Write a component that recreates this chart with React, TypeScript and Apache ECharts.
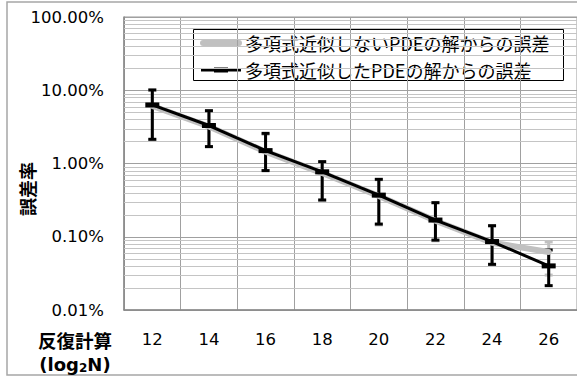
import { useEffect, useRef } from 'react';
import * as echarts from 'echarts';

// 反復計算 (log2 N)
const iterations = ['12', '14', '16', '18', '20', '22', '24', '26'];

// 多項式近似したPDEの解からの誤差 (%)
const fittedError = [6.3, 3.3, 1.5, 0.77, 0.37, 0.169, 0.086, 0.04];
const fittedLow = [2.14, 1.7, 0.8, 0.318, 0.149, 0.09, 0.042, 0.0215];
const fittedHigh = [10.1, 5.26, 2.58, 1.06, 0.608, 0.292, 0.1416, 0.066];

// 多項式近似しないPDEの解からの誤差 (%)
const plainError = [6.1, 3.2, 1.45, 0.74, 0.36, 0.165, 0.083, 0.062];
const plainLow = [2.1, 1.7, 0.8, 0.31, 0.145, 0.088, 0.042, 0.03];
const plainHigh = [10.0, 5.2, 2.5, 1.05, 0.6, 0.29, 0.14, 0.085];

// log axis: decades and the minor lines inside each decade
const decadeTicks = [0.01, 0.1, 1, 10, 100];
const minorMultipliers = [2, 3, 4, 5, 6, 7, 8, 9];

const legendNames = ['多項式近似しないPDEの解からの誤差', '多項式近似したPDEの解からの誤差'];

const NUM_FONT = 'DejaVu Sans';
const CJK_FONT = 'Noto Sans CJK JP';

function errorBarSeries(low: number[], high: number[], color: string, width: number) {
  return {
    type: 'custom',
    clip: true,
    silent: true,
    data: iterations.map((_, i) => [i, low[i], high[i]]),
    renderItem: (_params: any, api: any) => {
      const lo = api.coord([api.value(0), api.value(1)]);
      const hi = api.coord([api.value(0), api.value(2)]);
      const x = lo[0];
      const w = 4;
      const style = { stroke: color, lineWidth: width };
      return {
        type: 'group',
        children: [
          { type: 'line', shape: { x1: x, y1: lo[1], x2: x, y2: hi[1] }, style },
          { type: 'line', shape: { x1: x - w, y1: hi[1], x2: x + w, y2: hi[1] }, style },
          { type: 'line', shape: { x1: x - w, y1: lo[1], x2: x + w, y2: lo[1] }, style },
        ],
      };
    },
  };
}

export default function App() {
  const ref = useRef<HTMLDivElement>(null);

  useEffect(() => {
    if (!ref.current) return;
    const chart = echarts.init(ref.current, undefined, { renderer: 'svg' });

    const minorValues = decadeTicks
      .slice(0, -1)
      .flatMap((d) => minorMultipliers.map((m) => d * m));

    chart.setOption({
      animation: false,
      backgroundColor: '#fff',
      grid: {
        left: 124,
        top: 17,
        width: 456,
        height: 293,
        show: true,
        borderColor: '#999',
        borderWidth: 1,
      },
      xAxis: {
        type: 'category',
        data: iterations,
        boundaryGap: true,
        axisTick: { show: false },
        axisLine: { lineStyle: { color: '#888', width: 1.5 } },
        axisLabel: {
          interval: 0,
          fontSize: 16.5,
          color: '#000',
          margin: 21,
          fontFamily: NUM_FONT,
        },
        splitLine: { show: true, interval: 0, lineStyle: { color: '#a0a0a0', width: 1 } },
      },
      yAxis: {
        type: 'log',
        logBase: 10,
        min: decadeTicks[0],
        max: decadeTicks[decadeTicks.length - 1],
        axisLine: { show: true, lineStyle: { color: '#888', width: 1.5 } },
        axisTick: { show: false },
        axisLabel: {
          formatter: (v: number) => Number(v).toFixed(2) + '%',
          fontSize: 16.5,
          color: '#000',
          margin: 20,
          fontFamily: NUM_FONT,
        },
        splitLine: { show: true, lineStyle: { color: '#a0a0a0', width: 1 } },
      },
      series: [
        {
          // minor gridlines of the log axis
          type: 'custom',
          silent: true,
          clip: true,
          z: 1,
          data: minorValues.map((v) => [0, v]),
          renderItem: (params: any, api: any) => {
            const cs = params.coordSys;
            const y = Math.round(api.coord([0, api.value(1)])[1]) + 0.5;
            return {
              type: 'line',
              shape: { x1: cs.x, y1: y, x2: cs.x + cs.width, y2: y },
              style: { stroke: '#c4c4c4', lineWidth: 1 },
            };
          },
        },
        errorBarSeries(plainLow, plainHigh, '#c0c0c0', 3),
        {
          name: legendNames[0],
          type: 'line',
          data: plainError,
          symbol: 'none',
          lineStyle: { color: '#c0c0c0', width: 6, cap: 'round' },
          itemStyle: { color: '#c0c0c0' },
        },
        errorBarSeries(fittedLow, fittedHigh, '#000', 3),
        {
          name: legendNames[1],
          type: 'line',
          data: fittedError,
          symbol: 'rect',
          symbolSize: [14, 5],
          lineStyle: { color: '#000', width: 3 },
          itemStyle: { color: '#000' },
        },
      ],
      graphic: [
        {
          type: 'rect',
          silent: true,
          z: -10,
          shape: { x: 7, y: 2, width: 600, height: 373 },
          style: { fill: 'none', stroke: '#a6a6a6', lineWidth: 1.5 },
        },
        {
          type: 'group',
          z: 100,
          children: [
            {
              type: 'rect',
              shape: { x: 193.5, y: 29.5, width: 370, height: 51 },
              style: { fill: '#fff', stroke: '#000', lineWidth: 1 },
            },
            {
              type: 'line',
              shape: { x1: 203, y1: 43, x2: 239, y2: 43 },
              style: { stroke: '#c0c0c0', lineWidth: 6, lineCap: 'round' },
            },
            {
              type: 'line',
              shape: { x1: 201, y1: 70, x2: 241, y2: 70 },
              style: { stroke: '#000', lineWidth: 3 },
            },
            {
              type: 'rect',
              shape: { x: 214, y: 67.5, width: 14, height: 5 },
              style: { fill: '#000' },
            },
            {
              type: 'text',
              x: 245,
              y: 43,
              style: {
                text: legendNames[0],
                fontSize: 18,
                fontFamily: CJK_FONT,
                fill: '#000',
                verticalAlign: 'middle',
              },
            },
            {
              type: 'text',
              x: 245,
              y: 70,
              style: {
                text: legendNames[1],
                fontSize: 18,
                fontFamily: CJK_FONT,
                fill: '#000',
                verticalAlign: 'middle',
              },
            },
          ],
        },
        {
          type: 'text',
          x: 27,
          y: 189,
          rotation: Math.PI / 2,
          style: {
            text: '誤差率',
            fontSize: 18,
            fontWeight: 'bold',
            fontFamily: CJK_FONT,
            fill: '#000',
            align: 'center',
            verticalAlign: 'middle',
          },
        },
        {
          type: 'text',
          x: 75,
          y: 340,
          style: {
            text: '反復計算',
            fontSize: 18.5,
            fontWeight: 'bold',
            fontFamily: CJK_FONT,
            fill: '#000',
            align: 'center',
            verticalAlign: 'middle',
          },
        },
        {
          type: 'text',
          x: 75,
          y: 364,
          style: {
            text: '{m|(log}{s|2}{m|N)}',
            align: 'center',
            verticalAlign: 'middle',
            rich: {
              m: { fontSize: 18, fontWeight: 'bold', fontFamily: NUM_FONT, fill: '#000' },
              s: {
                fontSize: 12,
                fontWeight: 'bold',
                fontFamily: NUM_FONT,
                fill: '#000',
                padding: [8, 0, 0, 0],
              },
            },
          },
        },
      ],
    });

    return () => chart.dispose();
  }, []);

  return (
    <div
      ref={ref}
      style={{ position: 'fixed', left: 0, top: 0, width: 577, height: 378, background: '#fff' }}
    />
  );
}
